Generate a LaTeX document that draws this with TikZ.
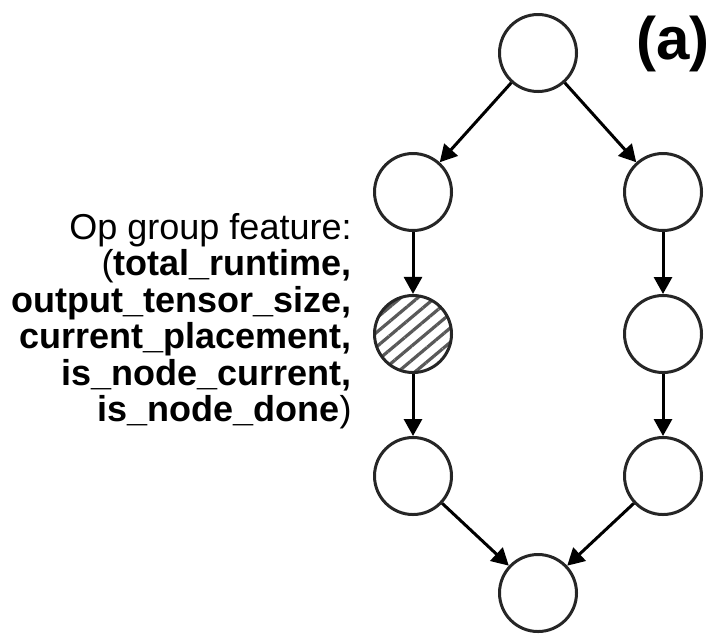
\documentclass[tikz,border=0pt]{standalone}
\usepackage{fontspec}
\setmainfont{Liberation Sans}
\usetikzlibrary{arrows.meta,patterns.meta}

\begin{document}
\begin{tikzpicture}[x=0.5pt,y=-0.5pt,
  op/.style={circle,draw=black!85,line width=1.5pt,minimum size=38.5pt,inner sep=0pt},
  flow/.style={-{Triangle[length=8.5pt,width=9pt]},line width=1.5pt}]
\useasboundingbox (0,0) rectangle (726,634);

\node [op] (top) at (538,53) {};
\node [op] (l1) at (413,192) {};
\node [op,pattern={Lines[angle=40,distance=5.5pt,line width=1.6pt]},pattern color=black!65] (l2) at (413,334) {};
\node [op] (l3) at (413,476) {};
\node [op] (r1) at (663,192) {};
\node [op] (r2) at (663,334) {};
\node [op] (r3) at (663,476) {};
\node [op] (bottom) at (538,593) {};

\draw [flow] (top) -- (l1);
\draw [flow] (top) -- (r1);
\draw [flow] (l1) -- (l2);
\draw [flow] (l2) -- (l3);
\draw [flow] (r1) -- (r2);
\draw [flow] (r2) -- (r3);
\draw [flow] (l3) -- (bottom);
\draw [flow] (r3) -- (bottom);

\node [font=\bfseries\fontsize{30}{30}\selectfont] (tag) at (673,44) {(a)};
\node [anchor=east,align=right,inner sep=0pt,font=\fontsize{18}{18.25}\selectfont] (feat) at (352,321)
  {Op group feature:\\
   (\textbf{total\_runtime,}\\
   \textbf{output\_tensor\_size,}\\
   \textbf{current\_placement,}\\
   \textbf{is\_node\_current,}\\
   \textbf{is\_node\_done})};

\end{tikzpicture}
\end{document}
